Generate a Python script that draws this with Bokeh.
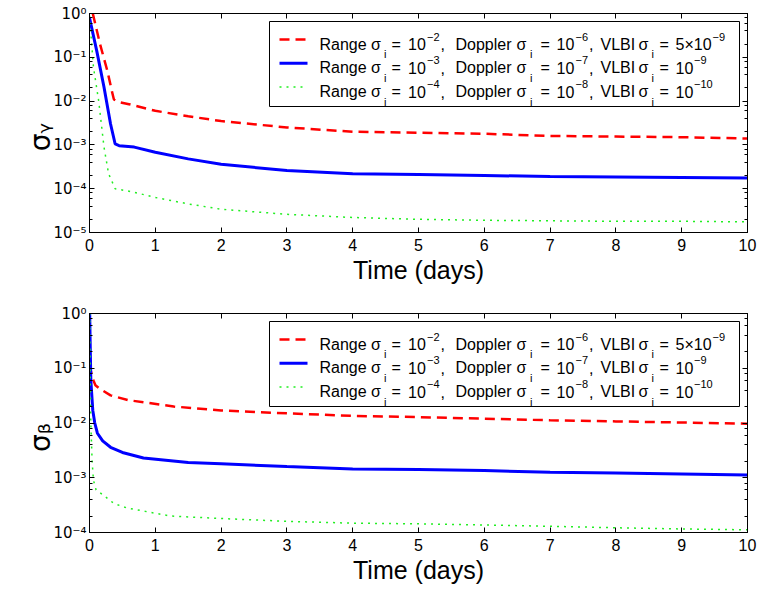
import math
from bokeh.plotting import figure
from bokeh.layouts import column
from bokeh.models import (LinearAxis, LogAxis, Range1d, FixedTicker, Label,
                          BoxAnnotation, Arrow, CustomJSTickFormatter)
from bokeh.embed import file_html
from bokeh.resources import INLINE

# ---------------- data ----------------
days_ticks = [0, 1, 2, 3, 4, 5, 6, 7, 8, 9, 10]

# top panel: sigma_gamma
g_red_t = [0.05, 0.16, 0.27, 0.34, 0.37, 0.45, 0.6, 1, 1.5, 2, 3, 4, 5, 6, 7, 8, 9, 10]
g_red_v = [1.0, 0.2, 0.05, 0.017, 0.011, 0.0095, 0.0085, 0.006, 0.0045, 0.0035,
           0.0025, 0.002, 0.0019, 0.0018, 0.0016, 0.00155, 0.0015, 0.0014]
g_blue_t = [0, 0.11, 0.22, 0.32, 0.39, 0.45, 0.68, 1, 1.5, 2, 3, 4, 5, 6, 7, 8, 9, 10]
g_blue_v = [0.8, 0.14, 0.021, 0.003, 0.00105, 0.00096, 0.00089, 0.00068, 0.00048,
            0.00036, 0.00026, 0.00022, 0.00021, 0.0002, 0.00019, 0.000185, 0.00018, 0.000175]
g_green_t = [0, 0.06, 0.14, 0.22, 0.29, 0.39, 0.68, 1, 1.5, 2, 3, 4, 5, 6, 7, 8, 9, 10]
g_green_v = [0.9, 0.06, 0.01, 0.0009, 0.00022, 0.0001, 0.000083, 0.000063, 0.000045,
             0.000034, 0.000026, 0.000022, 0.00002, 0.000019, 0.0000185, 0.000018,
             0.000018, 0.0000175]

# bottom panel: sigma_beta
b_red_t = [0.01, 0.02, 0.06, 0.09, 0.16, 0.32, 0.6, 0.82, 1.28, 2, 3, 4, 5, 6, 7, 8, 9, 10]
b_red_v = [0.12, 0.09, 0.06, 0.049, 0.042, 0.032, 0.026, 0.024, 0.02, 0.017, 0.015,
           0.0135, 0.0128, 0.012, 0.0112, 0.0107, 0.0102, 0.0097]
b_blue_t = [0.003, 0.01, 0.02, 0.05, 0.08, 0.12, 0.2, 0.32, 0.5, 0.82, 1.5, 2, 3, 4,
            5, 6, 7, 8, 9, 10]
b_blue_v = [1.0, 0.3, 0.06, 0.017, 0.01, 0.0065, 0.0047, 0.0036, 0.0029, 0.0023,
            0.0019, 0.0018, 0.0016, 0.00145, 0.00142, 0.00135, 0.00126, 0.00122,
            0.00117, 0.00112]
b_green_t = [0.003, 0.01, 0.02, 0.04, 0.06, 0.1, 0.21, 0.37, 0.57, 1.23, 2, 3, 4, 5,
             6, 7, 8, 9, 10]
b_green_v = [1.0, 0.1, 0.01, 0.002, 0.0009, 0.0006, 0.00048, 0.00034, 0.00028,
             0.0002, 0.00018, 0.00016, 0.000148, 0.000144, 0.000137, 0.00013,
             0.000122, 0.000116, 0.000112]

# legend text parts: Range / Doppler / VLBI sigma_i
range_exp = ["\u22122", "\u22123", "\u22124"]
doppler_exp = ["\u22126", "\u22127", "\u22128"]
vlbi_mant = ["5\u00d710", "10", "10"]
vlbi_exp = ["\u22129", "\u22129", "\u221210"]

y_labels = ["\u03c3\u1d67", "\u03c3\u1d66"]   # sigma_gamma, sigma_beta
x_title = "Time (days)"

FONT = "Liberation Sans"
W = 761
FL, FT, FH = 89, 13, 219   # frame left, frame top, frame height (canvas px)

sup_fmt = CustomJSTickFormatter(code="""
const sup = {'-':'\u207b','0':'\u2070','1':'\u00b9','2':'\u00b2','3':'\u00b3',
             '4':'\u2074','5':'\u2075','6':'\u2076','7':'\u2077','8':'\u2078','9':'\u2079'};
const e = Math.round(Math.log10(tick));
return '10' + String(e).split('').map(c => sup[c]).join('');
""")


# bokeh "screen" units here are relative to the frame's bottom-left corner
def SX(x):
    return x - FL


def SY(y):
    return FT + FH - y


def txt(p, s, x, y, size):
    p.add_layout(Label(x=SX(x), y=SY(y), x_units="screen", y_units="screen",
                       text=s, text_font=FONT, text_font_size=f"{size}px",
                       text_color="black", text_align="left",
                       text_baseline="alphabetic"))


def make_panel(ylab, ymin, series, height, bottom):
    p = figure(width=W, height=height, x_range=Range1d(0, 10),
               y_range=Range1d(ymin, 1), y_axis_type="log",
               output_backend="svg", toolbar_location=None,
               min_border_left=FL, min_border_right=14, min_border_top=FT,
               min_border_bottom=bottom, x_axis_location=None, y_axis_location=None)
    p.grid.visible = False
    p.outline_line_color = "black"
    p.outline_line_width = 1
    p.background_fill_color = "white"
    p.border_fill_color = "white"

    def style(ax):
        ax.axis_line_color = "black"
        ax.major_tick_line_color = "black"
        ax.minor_tick_line_color = "black"
        ax.major_tick_in = 5
        ax.major_tick_out = 0
        ax.minor_tick_in = 3
        ax.minor_tick_out = 0

    def hide_labels(ax):
        ax.major_label_text_font_size = "1px"
        ax.major_label_text_color = None
        ax.major_label_standoff = 0

    xb = LinearAxis(ticker=FixedTicker(ticks=days_ticks), axis_label=x_title)
    style(xb)
    xb.minor_tick_line_color = None
    xb.axis_label_text_font = FONT
    xb.axis_label_text_font_size = "25px"
    xb.axis_label_text_font_style = "normal"
    xb.axis_label_text_color = "black"
    xb.axis_label_standoff = 2
    xb.major_label_text_font = FONT
    xb.major_label_text_font_size = "16px"
    xb.major_label_text_color = "black"
    xb.major_label_standoff = 6
    p.add_layout(xb, "below")

    xt = LinearAxis(ticker=FixedTicker(ticks=days_ticks))
    style(xt)
    xt.minor_tick_line_color = None
    hide_labels(xt)
    p.add_layout(xt, "above")

    yl = LogAxis(formatter=sup_fmt, axis_label=ylab)
    style(yl)
    yl.major_label_text_font = "DejaVu Sans"
    yl.major_label_text_font_size = "15px"
    yl.major_label_text_color = "black"
    yl.major_label_standoff = 3
    yl.axis_label_text_font = "DejaVu Sans"
    yl.axis_label_text_font_size = "28px"
    yl.axis_label_text_font_style = "normal"
    yl.axis_label_text_color = "black"
    yl.axis_label_orientation = math.pi / 2
    yl.axis_label_standoff = 10
    p.add_layout(yl, "left")

    yr = LogAxis()
    style(yr)
    hide_labels(yr)
    p.add_layout(yr, "right")

    styles = [
        dict(color="#ff0000", line_width=2.5, line_dash="10 6"),
        dict(color="#0000ff", line_width=3, line_dash="solid"),
        dict(color="#22ee22", line_width=1.5, line_dash="2 5"),
    ]
    for (xs, ys), st in zip(series, styles):
        p.line(xs, ys, **st)

    # legend box
    p.add_layout(BoxAnnotation(left=SX(269), right=SX(739), top=SY(21),
                               bottom=SY(106),
                               left_units="screen", right_units="screen",
                               top_units="screen", bottom_units="screen",
                               fill_color="white", fill_alpha=1,
                               line_color="black", line_width=1, line_alpha=1))
    row_mid = [39, 62.7, 86.5]
    F = 16
    for i, st in enumerate(styles):
        p.add_layout(Arrow(x_start=SX(279), x_end=SX(307), y_start=SY(row_mid[i]),
                           y_end=SY(row_mid[i]),
                           start_units="screen", end_units="screen", end=None,
                           line_color=st["color"], line_width=st["line_width"],
                           line_dash=st["line_dash"]))
        b = row_mid[i] + 4.6
        main = [("Range \u03c3", 319), ("=", 391), ("10", 407.5),
                (",", 440), ("Doppler", 455), ("\u03c3", 516), ("=", 540),
                ("10", 556), (",", 588.5), ("VLBI", 600), ("\u03c3", 638),
                ("=", 659), (vlbi_mant[i], 675)]
        for s, x in main:
            txt(p, s, x, b, F)
        for x in (383.5, 529.5, 651):
            txt(p, "i", x, b + 10, 11)
        sx3 = 712 if vlbi_mant[i] != "10" else 693.5
        for s, x in ((range_exp[i], 426.5), (doppler_exp[i], 575), (vlbi_exp[i], sx3)):
            txt(p, s, x, b - 7.5, 11)
    return p


top = make_panel(y_labels[0], 1e-5,
                 [(g_red_t, g_red_v), (g_blue_t, g_blue_v), (g_green_t, g_green_v)],
                 300, 68)
bot = make_panel(y_labels[1], 1e-4,
                 [(b_red_t, b_red_v), (b_blue_t, b_blue_v), (b_green_t, b_green_v)],
                 292, 60)

layout = column(top, bot, spacing=0)
open("out.html", "w").write(file_html(layout, INLINE))
